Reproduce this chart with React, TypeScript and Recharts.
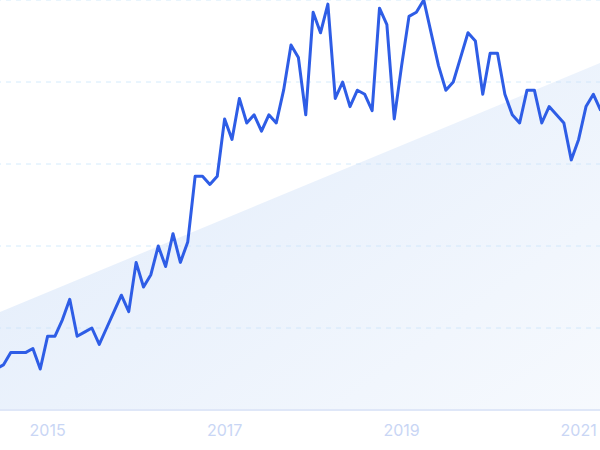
import { ComposedChart, Line, Area, XAxis, YAxis, CartesianGrid } from "recharts";

// monthly search interest, Jun 2014 .. Apr 2021
const startYear = 2014;
const startMonth = 6;
const interest = [
  10, 11, 14, 14, 14, 15, 10, 18, 18, 22, 27, 18, 19, 20, 16, 20, 24, 28, 24, 36,
  30, 33, 40, 35, 43, 36, 41, 57, 57, 55, 57, 71, 66, 76, 70, 72, 68, 72, 70, 78,
  89, 86, 72, 97, 92, 99, 76, 80, 74, 78, 77, 73, 98, 94, 71, 84, 96, 97, 100, 92,
  84, 78, 80, 86, 92, 90, 77, 87, 87, 77, 72, 70, 78, 78, 70, 74, 72, 70, 61, 66,
  74, 77, 73,
];
// background trend wedge, start and end values only
const trendStart = 23.5;
const trendEnd = 84.7;
const yearTicks = ["2015", "2017", "2019", "2021"];
const yTicks = [0, 20, 40, 60, 80, 100];

const months = interest.map((_, i) => {
  const m = startMonth - 1 + i;
  const y = startYear + Math.floor(m / 12);
  return `${y}-${String((m % 12) + 1).padStart(2, "0")}`;
});

const data = interest.map((v, i) => ({
  t: i,
  month: months[i],
  value: v,
  trend: i === 0 ? trendStart : i === interest.length - 1 ? trendEnd : null,
}));

const tickIdx = yearTicks.map((y) => months.indexOf(`${y}-01`));

export default function App() {
  return (
    <div
      style={{
        position: "absolute",
        left: 0,
        top: 0,
        width: 600,
        height: 450,
        overflow: "hidden",
        background: "#fff",
      }}
    >
      <div style={{ position: "absolute", left: -14, top: 0 }}>
        <ComposedChart
          width={630}
          height={450}
          data={data}
          margin={{ top: 0, right: 15.25, bottom: 0, left: 10 }}
        >
          <defs>
            <linearGradient id="wedge" x1="0" y1="0.2" x2="1" y2="1">
              <stop offset="0%" stopColor="#cfe0f8" stopOpacity={0.6} />
              <stop offset="100%" stopColor="#cfe0f8" stopOpacity={0.18} />
            </linearGradient>
          </defs>
          <CartesianGrid
            vertical={false}
            strokeDasharray="5 5"
            stroke="#b9ddfa"
            strokeOpacity={0.6}
          />
          <XAxis
            dataKey="t"
            type="number"
            domain={[0, interest.length - 1]}
            ticks={tickIdx}
            tickFormatter={(t) => months[t].slice(0, 4)}
            height={40}
            tickSize={0}
            tickMargin={15}
            axisLine={{ stroke: "#dfe7f8", strokeWidth: 2 }}
            tick={{ fill: "#c9d6f5", fontSize: 16, fontFamily: "Inter, sans-serif" }}
          />
          <YAxis hide domain={[0, 100]} ticks={yTicks} />
          <Area
            dataKey="trend"
            type="linear"
            connectNulls
            stroke="none"
            fill="url(#wedge)"
            fillOpacity={1}
            isAnimationActive={false}
          />
          <Line
            dataKey="value"
            type="linear"
            stroke="#2e5de6"
            strokeWidth={3}
            strokeLinejoin="round"
            dot={false}
            activeDot={false}
            isAnimationActive={false}
          />
        </ComposedChart>
      </div>
    </div>
  );
}
